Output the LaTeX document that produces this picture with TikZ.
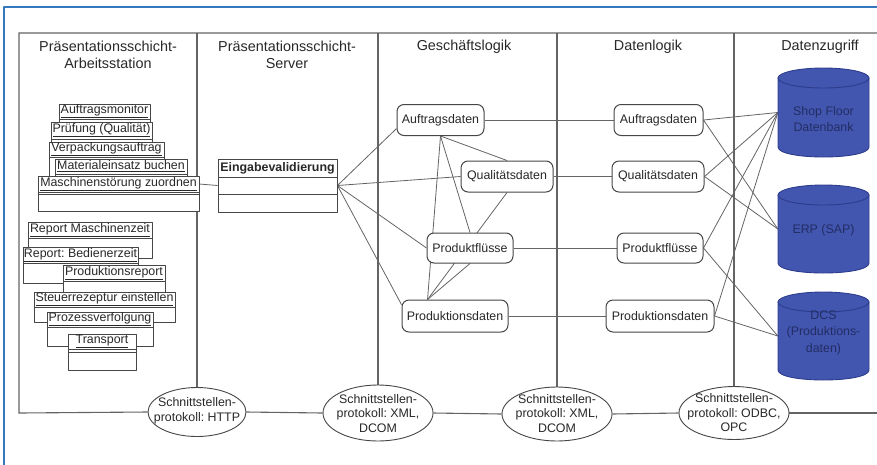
\documentclass[tikz,border=0pt]{standalone}
\usepackage{fontspec}
\setmainfont{Liberation Sans}
\frenchspacing
\usetikzlibrary{shapes.geometric,backgrounds}
\definecolor{frameblue}{RGB}{52,120,190}
\definecolor{linegray}{RGB}{100,100,100}
\definecolor{edgegray}{RGB}{70,70,70}
\definecolor{textgray}{RGB}{40,40,40}
\definecolor{dbfill}{RGB}{66,86,176}
\definecolor{dbedge}{RGB}{45,60,140}
\definecolor{dbtext}{RGB}{35,45,100}
\newcommand{\fsnode}{\fontsize{12.4}{14.5}\selectfont}
\newcommand{\fshead}{\fontsize{14.4}{16.5}\selectfont}
\newcommand{\fsdb}{\fontsize{12.4}{16.5}\selectfont}
\tikzset{
  tbl/.style={draw=linegray, line width=1.1pt},
  conn/.style={draw=linegray, line width=0.8pt},
  rbox/.style={draw=edgegray, line width=1pt, rounded corners=7pt, fill=white,
    inner sep=0pt, minimum height=31pt, font=\fsnode, text=textgray},
  clsbody/.style={draw=edgegray, line width=0.9pt, fill=white, inner sep=0pt},
  clsline/.style={draw=edgegray, line width=0.9pt},
  clstitle/.style={inner sep=0pt, font=\fsnode, text=textgray},
  hdr/.style={font=\fshead, align=center, text=textgray, inner sep=0pt},
  proto/.style={ellipse, draw=edgegray, line width=0.9pt, fill=white, inner sep=0pt},
  prototext/.style={font=\fsnode, align=center, text=textgray, inner sep=0pt},
  dbtxt/.style={font=\fsdb, align=center, text=dbtext, inner sep=0pt},
}
% name, x1, x2, ytop, ytitlebottom, ydivider, ybottom, text
\newcommand{\umlcls}[8]{%
  \node[clsbody, minimum width={(#3-#2)*1pt}, minimum height={(#7-#4)*1pt}] (#1) at ({(#2+#3)/2},{(#4+#7)/2}) {};
  \draw[clsline] (#2,#5) -- (#3,#5);
  \draw[clsline] (#2,#6) -- (#3,#6);
  \node[clstitle, minimum width={(#3-#2)*1pt}, minimum height={(#5-#4)*1pt}] (#1t) at ({(#2+#3)/2},{(#4+#5)/2}) {#8};
}
% name, cx, ytop, ybottom, text, text y
\newcommand{\dbcyl}[6]{%
  \filldraw[fill=dbfill, draw=dbedge, line width=0.9pt]
    ({#2-45.5},{#3+10}) -- ({#2-45.5},{#4-10})
    .. controls ({#2-45.5},{#4+3.33}) and ({#2+45.5},{#4+3.33}) .. ({#2+45.5},{#4-10})
    -- ({#2+45.5},{#3+10}) -- cycle;
  \filldraw[fill=dbfill, draw=dbedge, line width=0.9pt] (#2,{#3+10}) ellipse [x radius=45.5pt, y radius=10pt];
  \node[inner sep=0pt, minimum width=91pt, minimum height={(#4-#3)*1pt}] (#1) at (#2,{(#3+#4)/2}) {};
  \node[dbtxt] (#1t) at (#2,#6) {#5};
}
\begin{document}
\begin{tikzpicture}[x=1pt, y=-1pt, line join=round]
\useasboundingbox (0,0) rectangle (877,464);

% blue frame
\coordinate (fbl) at (4,466);
\coordinate (ftl) at (4,7);
\coordinate (ftr) at (879,7);
\draw[frameblue, line width=2.2pt] (fbl) -- (ftl) -- (ftr);

% table corners
\coordinate (tl) at (19,33);
\coordinate (tr) at (879,33);
\coordinate (bl) at (19,413);
\coordinate (br) at (879,413);

% headers
\node[hdr] (h1) at (108,55) {Präsentationsschicht-\\Arbeitsstation};
\node[hdr] (h2) at (287,55) {Präsentationsschicht-\\Server};
\node[hdr] (h3) at (464,47) {Geschäftslogik};
\node[hdr] (h4) at (648,47) {Datenlogik};
\node[hdr] (h5) at (820,47) {Datenzugriff};

% protocol ellipses
\node[proto, minimum width=98pt, minimum height=49pt] (e1) at (197,412) {};
\node[prototext] (e1t) at (197,411) {Schnittstellen-\\protokoll: HTTP};
\node[proto, minimum width=110pt, minimum height=56pt] (e2) at (378,413) {};
\node[prototext] (e2t) at (378,413.5) {Schnittstellen-\\protokoll: XML,\\DCOM};
\node[proto, minimum width=110pt, minimum height=54pt] (e3) at (557,414) {};
\node[prototext] (e3t) at (557,413.5) {Schnittstellen-\\protokoll: XML,\\DCOM};
\node[proto, minimum width=110pt, minimum height=53pt] (e4) at (734,413) {};
\node[prototext] (e4t) at (734,413) {Schnittstellen-\\protokoll: ODBC,\\OPC};

% workstation UML boxes
\umlcls{c1}{59}{150}{104}{119}{119}{135}{\underline{Auftragsmonitor}}
\umlcls{c2}{51}{152}{122}{139}{139}{155}{\underline{Prüfung (Qualität)}}
\umlcls{c3}{49}{164}{142}{157}{157}{180}{\underline{Verpackungsauftrag}}
\umlcls{c4}{55}{187}{159}{174}{174}{190}{\underline{Materialeinsatz buchen}}
\umlcls{c5}{38}{199}{176}{192}{194.5}{211}{\underline{Maschinenstörung zuordnen}}
\umlcls{c6}{28}{152}{222}{238}{238}{258}{\underline{Report Maschinenzeit}}
\umlcls{c7}{23}{138}{247}{263}{263}{283}{\underline{Report: Bedienerzeit}}
\umlcls{c8}{63}{165}{265}{281}{281}{300}{\underline{Produktionsreport}}
\umlcls{c9}{34}{175}{292}{307}{307}{322}{\underline{Steuerrezeptur einstellen}}
\umlcls{c10}{47}{153}{312}{327}{327}{346}{\underline{Prozessverfolgung}}
\umlcls{c11}{68}{136}{334}{349}{352}{370}{\underline{Transport}}

% server box
\umlcls{ev}{218}{337}{159}{177}{194.5}{212}{\textbf{Eingabevalidierung}}

% business logic
\node[rbox, minimum width=87pt] (ga) at (440.5,120) {Auftragsdaten};
\node[rbox, minimum width=92pt] (gq) at (507,176.5) {Qualitätsdaten};
\node[rbox, minimum width=86pt, minimum height=30pt] (gp) at (470,248) {Produktflüsse};
\node[rbox, minimum width=106pt, minimum height=32pt] (gd) at (455,316) {Produktionsdaten};

% data logic
\node[rbox, minimum width=89pt] (da) at (658.5,120) {Auftragsdaten};
\node[rbox, minimum width=92pt] (dq) at (658,176.5) {Qualitätsdaten};
\node[rbox, minimum width=86pt, minimum height=30pt] (dp) at (660,248) {Produktflüsse};
\node[rbox, minimum width=108pt, minimum height=32pt] (dd) at (660,316) {Produktionsdaten};

% databases
\dbcyl{sf}{823.5}{68}{157}{Shop Floor\\Datenbank}{119}
\dbcyl{erp}{823.5}{185}{273}{ERP (SAP)}{230}
\dbcyl{dcs}{823.5}{292}{380}{DCS\\(Produktions-\\daten)}{332.5}

\begin{pgfonlayer}{background}
  % table frame
  \draw[tbl] (e1.west) -- (bl) -- (tl) -- (tr);
  \draw[tbl] (e1.east) -- (e2.west);
  \draw[tbl] (e2.east) -- (e3.west);
  \draw[tbl] (e3.east) -- (e4.west);
  \draw[tbl] (e4.east) -- (br);
  \draw[tbl] (e1.north |- tl) -- (e1.north);
  \draw[tbl] (e2.north |- tl) -- (e2.north);
  \draw[tbl] (e3.north |- tl) -- (e3.north);
  \draw[tbl] (e4.north |- tl) -- (e4.north);

  % connectors
  \draw[conn] (c5t.east) -- (ev.west);
  \draw[conn] (ev.east) -- (ga.191);
  \draw[conn] (ev.east) -- (gq.west);
  \draw[conn] (ev.east) -- (gp.west);
  \draw[conn] (ev.east) -- (gd.168);
  \draw[conn] (ga.south) -- (gq.north);
  \draw[conn] (ga.south) -- (gp.north);
  \draw[conn] (ga.south) -- (gd.149);
  \draw[conn] (gq.south) -- (gd.149);
  \draw[conn] (gp.south) -- (gd.149);

  \draw[conn] (ga.east) -- (da.west);
  \draw[conn] (gq.east) -- (dq.west);
  \draw[conn] (gp.east) -- (dp.west);
  \draw[conn] (gd.east) -- (dd.west);

  \draw[conn] (da.east) -- (sf.west);
  \draw[conn] (da.east) -- (erp.west);
  \draw[conn] (dq.east) -- (sf.west);
  \draw[conn] (dq.east) -- (erp.west);
  \draw[conn] (dp.east) -- (sf.west);
  \draw[conn] (dp.east) -- (dcs.west);
  \draw[conn] (dd.east) -- (sf.west);
  \draw[conn] (dd.east) -- (dcs.west);
\end{pgfonlayer}
\end{tikzpicture}
\end{document}
